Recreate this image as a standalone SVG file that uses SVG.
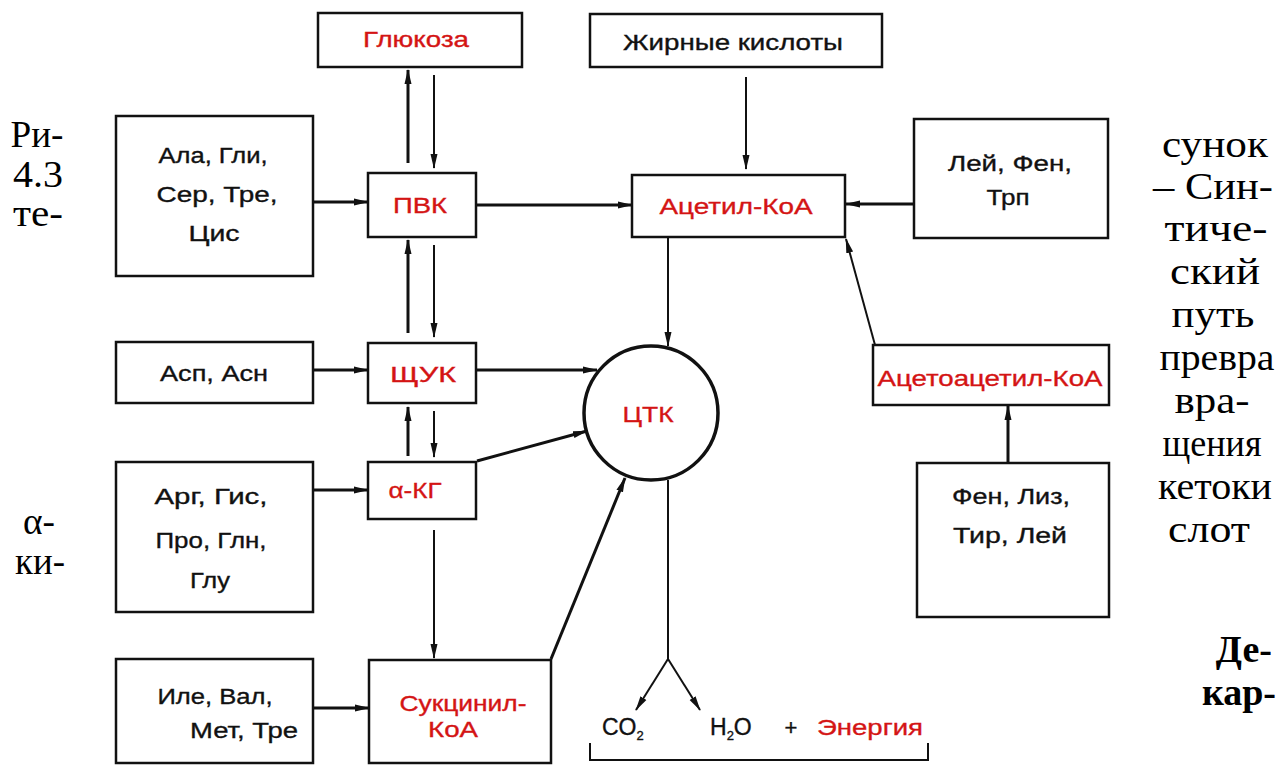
<svg xmlns="http://www.w3.org/2000/svg" width="1286" height="771" viewBox="0 0 1286 771">
<style>
.box{fill:#fff;stroke:#111;stroke-width:2.5}
.t{font-family:"Liberation Sans",Arial,sans-serif;font-size:22px;fill:#111;stroke:#111;stroke-width:0.35;text-anchor:middle}
.r{fill:#d41414;stroke:#d41414}
.p{font-size:23px;text-anchor:start}
.sub{font-size:13px}
.c{stroke:#111;fill:none}
.th{stroke-width:3}
.tn{stroke-width:2}
.side{font-family:"Liberation Serif","Times New Roman",serif;font-size:38px;fill:#000;text-anchor:middle}
.sb{font-family:"Liberation Serif","Times New Roman",serif;font-size:38px;font-weight:bold;fill:#000;text-anchor:end}
</style>
<defs>
<marker id="ah" markerUnits="userSpaceOnUse" markerWidth="16" markerHeight="10" refX="14" refY="5" orient="auto">
<path d="M0,1.5 L15,5 L0,8.5 z" fill="#111"/>
</marker>
</defs>
<rect width="1286" height="771" fill="#fff"/>

<g id="connectors">
<line class="c th" x1="408" y1="163" x2="408" y2="70" marker-end="url(#ah)"/>
<line class="c tn" x1="434" y1="75" x2="434" y2="168" marker-end="url(#ah)"/>
<line class="c th" x1="313" y1="202" x2="368" y2="202" marker-end="url(#ah)"/>
<line class="c th" x1="476" y1="205" x2="632" y2="205" marker-end="url(#ah)"/>
<line class="c tn" x1="746" y1="77" x2="746" y2="169" marker-end="url(#ah)"/>
<line class="c th" x1="914" y1="204" x2="846" y2="204" marker-end="url(#ah)"/>
<line class="c tn" x1="875" y1="345" x2="846" y2="239" marker-end="url(#ah)"/>
<line class="c th" x1="1008" y1="463" x2="1008" y2="406" marker-end="url(#ah)"/>
<line class="c tn" x1="668" y1="237" x2="668" y2="346" marker-end="url(#ah)"/>
<line class="c th" x1="408" y1="333" x2="408" y2="240" marker-end="url(#ah)"/>
<line class="c tn" x1="434" y1="245" x2="434" y2="337" marker-end="url(#ah)"/>
<line class="c th" x1="313" y1="370" x2="368" y2="370" marker-end="url(#ah)"/>
<line class="c th" x1="476" y1="370" x2="597" y2="370" marker-end="url(#ah)"/>
<line class="c th" x1="408" y1="456" x2="408" y2="407" marker-end="url(#ah)"/>
<line class="c tn" x1="434" y1="411" x2="434" y2="457" marker-end="url(#ah)"/>
<line class="c th" x1="313" y1="490" x2="368" y2="490" marker-end="url(#ah)"/>
<line class="c th" x1="477" y1="461" x2="587" y2="431" marker-end="url(#ah)"/>
<line class="c tn" x1="434" y1="530" x2="434" y2="658" marker-end="url(#ah)"/>
<line class="c th" x1="313" y1="708" x2="369" y2="708" marker-end="url(#ah)"/>
<line class="c th" x1="551" y1="659" x2="625" y2="478" marker-end="url(#ah)"/>
<line class="c tn" x1="668" y1="480" x2="668" y2="660"/>
<line class="c tn" x1="668" y1="659" x2="636" y2="710" marker-end="url(#ah)"/>
<line class="c tn" x1="668" y1="659" x2="700" y2="710" marker-end="url(#ah)"/>
<path class="c tn" d="M590,743 V760 H928 V743"/>
</g>

<g id="glucose"><rect class="box" x="318" y="13" width="204" height="54"/><text class="t r" x="416" y="47" textLength="106" lengthAdjust="spacingAndGlyphs">Глюкоза</text></g>
<g id="fatty"><rect class="box" x="590" y="14" width="292" height="53"/><text class="t" x="733" y="50" textLength="220" lengthAdjust="spacingAndGlyphs">Жирные кислоты</text></g>
<g id="ala"><rect class="box" x="116" y="116" width="197" height="160"/>
<text class="t" x="213" y="163" textLength="109" lengthAdjust="spacingAndGlyphs">Ала, Гли,</text>
<text class="t" x="217" y="202" textLength="121" lengthAdjust="spacingAndGlyphs">Сер,  Тре,</text>
<text class="t" x="214" y="241" textLength="51" lengthAdjust="spacingAndGlyphs">Цис</text></g>
<g id="pvk"><rect class="box" x="368" y="173" width="108" height="64"/><text class="t r" x="420" y="213" textLength="54" lengthAdjust="spacingAndGlyphs">ПВК</text></g>
<g id="acetylcoa"><rect class="box" x="632" y="175" width="213" height="62"/><text class="t r" x="736" y="214" textLength="153" lengthAdjust="spacingAndGlyphs">Ацетил-КоА</text></g>
<g id="lei"><rect class="box" x="914" y="119" width="194" height="119"/>
<text class="t" x="1010" y="171" textLength="124" lengthAdjust="spacingAndGlyphs">Лей, Фен,</text>
<text class="t" x="1008" y="205" textLength="43" lengthAdjust="spacingAndGlyphs">Трп</text></g>
<g id="acetoacetyl"><rect class="box" x="873" y="345" width="236" height="60"/><text class="t r" x="990" y="386" textLength="225" lengthAdjust="spacingAndGlyphs">Ацетоацетил-КоА</text></g>
<g id="fen"><rect class="box" x="917" y="463" width="192" height="154"/>
<text class="t" x="1011" y="504" textLength="118" lengthAdjust="spacingAndGlyphs">Фен, Лиз,</text>
<text class="t" x="1010" y="543" textLength="114" lengthAdjust="spacingAndGlyphs">Тир,  Лей</text></g>
<g id="asp"><rect class="box" x="116" y="342" width="197" height="61"/><text class="t" x="214" y="381" textLength="108" lengthAdjust="spacingAndGlyphs">Асп, Асн</text></g>
<g id="shchuk"><rect class="box" x="368" y="343" width="108" height="60"/><text class="t r" x="423" y="382" textLength="66" lengthAdjust="spacingAndGlyphs">ЩУК</text></g>
<g id="akg"><rect class="box" x="368" y="462" width="108" height="57"/><text class="t r" x="415" y="498" textLength="53" lengthAdjust="spacingAndGlyphs">α-КГ</text></g>
<g id="arg"><rect class="box" x="116" y="462" width="197" height="150"/>
<text class="t" x="211" y="504" textLength="113" lengthAdjust="spacingAndGlyphs">Арг, Гис,</text>
<text class="t" x="211" y="548" textLength="111" lengthAdjust="spacingAndGlyphs">Про, Глн,</text>
<text class="t" x="210" y="588" textLength="40" lengthAdjust="spacingAndGlyphs">Глу</text></g>
<g id="ile"><rect class="box" x="116" y="659" width="197" height="104"/>
<text class="t" x="215" y="704" textLength="115" lengthAdjust="spacingAndGlyphs">Иле,  Вал,</text>
<text class="t" x="244" y="738" textLength="108" lengthAdjust="spacingAndGlyphs">Мет, Тре</text></g>
<g id="succinyl"><rect class="box" x="369" y="660" width="182" height="103"/>
<text class="t r" x="463" y="711" textLength="127" lengthAdjust="spacingAndGlyphs">Сукцинил-</text>
<text class="t r" x="453" y="737" textLength="50" lengthAdjust="spacingAndGlyphs">КоА</text></g>
<g id="tca"><circle cx="651" cy="413" r="67" fill="#fff" stroke="#111" stroke-width="3.5"/><text class="t r" x="648" y="422" textLength="51" lengthAdjust="spacingAndGlyphs">ЦТК</text></g>
<g id="products">
<text class="t p" x="602" y="735">CO<tspan class="sub" dy="5">2</tspan></text>
<text class="t p" x="710" y="735">H<tspan class="sub" dy="5">2</tspan><tspan dy="-5">O</tspan></text>
<text class="t" x="791" y="735">+</text>
<text class="t r" x="870" y="735" textLength="106" lengthAdjust="spacingAndGlyphs">Энергия</text>
</g>

<g id="caption">
<text class="side" x="37" y="147" textLength="53" lengthAdjust="spacingAndGlyphs">Ри-</text>
<text class="side" x="38" y="187" textLength="50" lengthAdjust="spacingAndGlyphs">4.3</text>
<text class="side" x="38" y="226" textLength="50" lengthAdjust="spacingAndGlyphs">те-</text>
<text class="side" x="39" y="534" textLength="32" lengthAdjust="spacingAndGlyphs">α-</text>
<text class="side" x="40" y="574" textLength="50" lengthAdjust="spacingAndGlyphs">ки-</text>
<text class="side" x="1215" y="157" textLength="106" lengthAdjust="spacingAndGlyphs">сунок</text>
<text class="side" x="1213" y="199" textLength="120" lengthAdjust="spacingAndGlyphs">– Син-</text>
<text class="side" x="1216" y="241" textLength="103" lengthAdjust="spacingAndGlyphs">тиче-</text>
<text class="side" x="1215" y="284" textLength="90" lengthAdjust="spacingAndGlyphs">ский</text>
<text class="side" x="1213" y="327" textLength="83" lengthAdjust="spacingAndGlyphs">путь</text>
<text class="side" x="1217" y="370" textLength="115" lengthAdjust="spacingAndGlyphs">превра</text>
<text class="side" x="1212" y="413" textLength="75" lengthAdjust="spacingAndGlyphs">вра-</text>
<text class="side" x="1212" y="456" textLength="99" lengthAdjust="spacingAndGlyphs">щения</text>
<text class="side" x="1215" y="499" textLength="114" lengthAdjust="spacingAndGlyphs">кетоки</text>
<text class="side" x="1209" y="542" textLength="82" lengthAdjust="spacingAndGlyphs">слот</text>
<text class="sb" x="1272" y="662">Де-</text>
<text class="sb" x="1276" y="705">кар-</text>
</g>
</svg>
